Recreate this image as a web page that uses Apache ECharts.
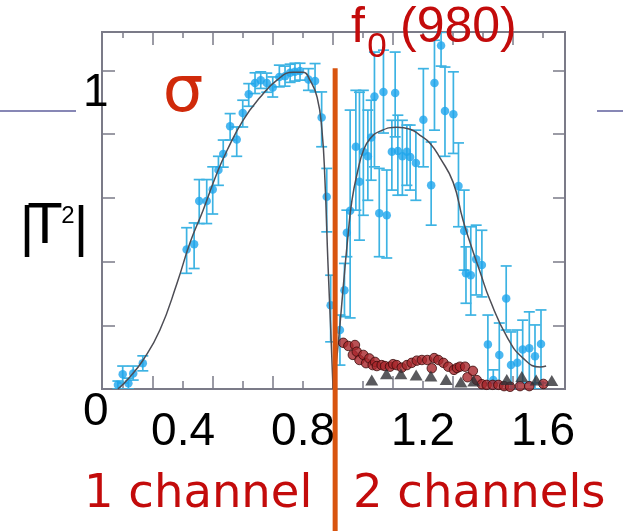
<!DOCTYPE html>
<html><head><meta charset="utf-8">
<script src="https://cdn.jsdelivr.net/npm/echarts@6/dist/echarts.min.js"></script>
<style>html,body{margin:0;padding:0;background:#fff}#c{width:623px;height:531px}</style>
</head><body><div id="c"></div>
<script>
// ---- axis ranges / ticks ----
const xMin = 0.13, xMax = 1.673;
const yMin = 0, yMax = 1.12;
const xTickLabels = [0.4, 0.8, 1.2, 1.6];
const xLongTicks = [0.3, 0.5, 0.7, 0.9, 1.1, 1.3, 1.5];
const xShortTicks = [0.2, 0.4, 0.6, 0.8, 1.0, 1.2, 1.4, 1.6];
const yTicks = [0.2, 0.4, 0.6, 0.8, 1.0];
const yTickLabels = [0, 1];
const dividerX = 0.907, dividerTop = 1.006;

// ---- blue data with error bars ----
const blueX = [0.183,0.199,0.218,0.234,0.266,0.412,0.437,0.454,0.479,0.499,0.518,0.534,0.557,0.579,0.599,0.619,0.640,0.659,0.679,0.699,0.721,0.740,0.757,0.773,0.790,0.818,0.840,0.862,0.879,0.892,0.923,0.938,0.946,0.957,0.976,0.988,1.001,1.016,1.027,1.038,1.054,1.068,1.079,1.096,1.107,1.116,1.131,1.146,1.157,1.176,1.201,1.227,1.238,1.260,1.273,1.301,1.318,1.337,1.343,1.359,1.377,1.396,1.416,1.434,1.454,1.477,1.493,1.514,1.532,1.554,1.573,1.593];
const blueY = [0.013,0.046,0.018,0.049,0.081,0.438,0.454,0.590,0.590,0.626,0.687,0.737,0.824,0.783,0.866,0.925,0.960,0.969,0.960,0.946,0.979,0.981,0.992,0.995,0.998,0.971,0.966,0.852,0.603,0.263,0.185,0.310,0.490,0.559,0.760,0.650,0.744,0.730,0.789,0.918,0.551,0.932,0.545,0.744,0.929,0.747,0.730,0.744,0.728,0.709,0.845,0.639,0.960,1.078,0.872,0.862,0.637,0.496,0.363,0.357,0.407,0.389,0.140,0.028,0.107,0.284,0.075,0.082,0.124,0.128,0.103,0.141];
const blueHi = [0.025,0.072,0.034,0.072,0.104,0.506,0.521,0.657,0.657,0.697,0.730,0.781,0.864,0.822,0.906,0.958,0.992,0.995,0.991,0.979,1.016,1.013,1.019,1.022,1.022,1.005,1.021,0.932,0.692,0.357,0.232,0.394,0.561,0.875,0.937,0.931,0.937,0.875,0.906,1.057,0.692,1.063,0.687,0.843,1.057,0.859,0.843,0.828,0.828,0.812,1.005,0.775,1.094,1.119,1.010,0.995,0.772,0.624,0.446,0.509,0.514,0.498,0.232,0.060,0.207,0.386,0.179,0.185,0.216,0.242,0.201,0.248];
const blueLo = [0.000,0.019,0.000,0.028,0.057,0.363,0.378,0.519,0.519,0.549,0.639,0.696,0.781,0.730,0.822,0.887,0.927,0.943,0.931,0.916,0.948,0.950,0.962,0.966,0.969,0.937,0.932,0.760,0.493,0.148,0.075,0.227,0.415,0.223,0.561,0.467,0.545,0.592,0.655,0.697,0.415,0.803,0.411,0.624,0.791,0.608,0.608,0.639,0.624,0.592,0.697,0.514,0.812,1.013,0.730,0.739,0.509,0.373,0.269,0.232,0.295,0.289,0.019,0.000,0.019,0.185,0.000,0.000,0.019,0.019,0.000,0.019];

// ---- fit curve (two branches meeting at the dip) ----
const curveLeftX = [0.183,0.223,0.267,0.323,0.380,0.423,0.467,0.513,0.547,0.600,0.657,0.713,0.767,0.800,0.823,0.847,0.863,0.873,0.883,0.893,0.900];
const curveLeftY = [0,0.038,0.091,0.185,0.332,0.458,0.561,0.677,0.749,0.843,0.915,0.969,0.994,0.994,0.969,0.915,0.812,0.655,0.395,0.169,0];
const curveRightX = [0.900,0.910,0.923,0.933,0.950,0.963,0.983,1.000,1.023,1.057,1.113,1.157,1.190,1.223,1.257,1.300,1.333,1.357,1.390,1.423,1.480,1.533,1.590,1.610];
const curveRightY = [0,0.075,0.201,0.310,0.483,0.592,0.687,0.745,0.785,0.809,0.821,0.815,0.796,0.771,0.724,0.649,0.530,0.458,0.367,0.279,0.163,0.097,0.069,0.072];

// ---- red circles ----
const redX = [0.934,0.951,0.966,0.973,0.979,0.988,1.001,1.010,1.021,1.032,1.040,1.046,1.062,1.073,1.090,1.100,1.112,1.129,1.146,1.162,1.179,1.196,1.214,1.229,1.237,1.251,1.268,1.284,1.303,1.313,1.323,1.340,1.348,1.366,1.379,1.396,1.412,1.432,1.451,1.470,1.490,1.523,1.554,1.601];
const redY = [0.145,0.135,0.107,0.138,0.117,0.091,0.107,0.081,0.096,0.075,0.085,0.072,0.075,0.072,0.070,0.078,0.075,0.067,0.075,0.082,0.089,0.091,0.091,0.065,0.097,0.091,0.082,0.070,0.060,0.066,0.070,0.070,0.037,0.057,0.028,0.015,0.013,0.013,0.013,0.009,0.007,0.009,0.009,0.016];

// ---- black triangles ----
const triX = [1.029,1.078,1.126,1.177,1.226,1.277,1.326,1.369,1.479,1.529,1.577,1.629];
const triY = [0.028,0.048,0.048,0.044,0.041,0.030,0.022,0.025,0.030,0.039,0.028,0.027];

const chart = echarts.init(document.getElementById('c'), null, {renderer: 'canvas'});

const axisCol = '#7b7b88';
function xAx(position, ticks, len, labels) {
  return {
    type: 'value', position: position, min: xMin, max: xMax,
    axisLine: {show: false}, splitLine: {show: false},
    axisTick: {show: true, inside: true, length: len, customValues: ticks, lineStyle: {color: axisCol, width: 1.5}},
    axisLabel: labels ? {
      show: true, customValues: labels, fontSize: 46, fontFamily: 'Liberation Sans', color: '#000',
      margin: 20, lineHeight: 46, formatter: v => v.toFixed(1)
    } : {show: false}
  };
}

const errData = blueX.map((x, i) => [x, blueLo[i], blueHi[i]]);
function renderErr(params, api) {
  const x = api.value(0), lo = api.value(1), hi = api.value(2);
  const a = api.coord([x, lo]), b = api.coord([x, hi]);
  const w = 5.5;
  const st = {stroke: '#3db3e3', lineWidth: 1.7};
  return {type: 'group', children: [
    {type: 'line', shape: {x1: a[0], y1: a[1], x2: b[0], y2: b[1]}, style: st},
    {type: 'line', shape: {x1: b[0] - w, y1: b[1], x2: b[0] + w, y2: b[1]}, style: st},
    {type: 'line', shape: {x1: a[0] - w, y1: a[1], x2: a[0] + w, y2: a[1]}, style: st}
  ]};
}

const curveStyle = {color: '#4d4d55', width: 1.5};
chart.setOption({
  animation: false,
  backgroundColor: '#fff',
  textStyle: {fontFamily: 'Liberation Sans'},
  grid: {left: 102, right: 58, top: 32, bottom: 142, show: true, borderColor: axisCol, borderWidth: 2,
         backgroundColor: '#fff', containLabel: false, outerBoundsMode: 'none'},
  xAxis: [
    xAx('bottom', xShortTicks, 8, xTickLabels),
    xAx('bottom', xLongTicks, 13, null),
    xAx('top', xShortTicks, 6, null),
    xAx('top', xLongTicks, 13, null)
  ],
  yAxis: [
    {type: 'value', position: 'left', min: yMin, max: yMax,
     axisLine: {show: false}, splitLine: {show: false},
     axisTick: {show: true, inside: true, length: 13, customValues: yTicks, lineStyle: {color: axisCol, width: 1.5}},
     axisLabel: {show: true, customValues: yTickLabels, align: 'left', verticalAlign: 'top', margin: 19,
                 fontSize: 46, lineHeight: 46, fontFamily: 'Liberation Sans', color: '#000',
                 formatter: v => String(Math.round(v))}},
    {type: 'value', position: 'right', min: yMin, max: yMax,
     axisLine: {show: false}, splitLine: {show: false},
     axisTick: {show: true, inside: true, length: 12, customValues: yTicks, lineStyle: {color: axisCol, width: 1.5}},
     axisLabel: {show: false}}
  ],
  series: [
    {type: 'custom', name: 'errors', xAxisIndex: 0, yAxisIndex: 0, renderItem: renderErr,
     encode: {x: 0, y: [1, 2]}, data: errData, clip: true, z: 2},
    {type: 'scatter', name: 'data', xAxisIndex: 0, yAxisIndex: 0, symbolSize: 8.5,
     itemStyle: {color: '#1ea5ec'}, data: blueX.map((x, i) => [x, blueY[i]]), z: 3},
    {type: 'line', name: 'fitL', xAxisIndex: 0, yAxisIndex: 0, showSymbol: false, smooth: 0.5,
     lineStyle: curveStyle, data: curveLeftX.map((x, i) => [x, curveLeftY[i]]), z: 4},
    {type: 'line', name: 'fitR', xAxisIndex: 0, yAxisIndex: 0, showSymbol: false, smooth: 0.5,
     lineStyle: curveStyle, data: curveRightX.map((x, i) => [x, curveRightY[i]]), z: 4},
    {type: 'scatter', name: 'red', xAxisIndex: 0, yAxisIndex: 0, symbolSize: 9.5,
     itemStyle: {color: '#a8252b', borderColor: '#3a0a0a', borderWidth: 1},
     data: redX.map((x, i) => [x, redY[i]]), z: 5},
    {type: 'scatter', name: 'tri', xAxisIndex: 0, yAxisIndex: 0, symbol: 'triangle', symbolSize: [13, 11],
     itemStyle: {color: '#2f2f35'}, data: triX.map((x, i) => [x, triY[i]]), z: 5}
  ]
});

const p = chart.convertToPixel({xAxisIndex: 0, yAxisIndex: 0}, [dividerX, dividerTop]);
const red = '#c30b0b';
chart.setOption({
  graphic: [
    {type: 'line', z: 50, shape: {x1: 0, y1: 111, x2: 76, y2: 111}, style: {stroke: '#8787b5', lineWidth: 2}},
    {type: 'line', z: 50, shape: {x1: 597, y1: 111, x2: 623, y2: 111}, style: {stroke: '#8787b5', lineWidth: 2}},
    {type: 'line', z: 100, shape: {x1: p[0], y1: p[1], x2: p[0], y2: 531}, style: {stroke: '#d8540f', lineWidth: 5}},
    {type: 'text', z: 60, x: 27, y: 230, style: {text: '|', fontSize: 56, fontFamily: 'Liberation Sans', fill: '#000', align: 'center', verticalAlign: 'middle'}},
    {type: 'text', z: 60, x: 45, y: 227, style: {text: 'T', fontSize: 58, fontFamily: 'Liberation Sans', fill: '#000', align: 'center', verticalAlign: 'middle'}},
    {type: 'text', z: 60, x: 68, y: 216, style: {text: '2', fontSize: 24, fontFamily: 'Liberation Sans', fill: '#000', align: 'center', verticalAlign: 'middle'}},
    {type: 'text', z: 60, x: 81, y: 230, style: {text: '|', fontSize: 56, fontFamily: 'Liberation Sans', fill: '#000', align: 'center', verticalAlign: 'middle'}},
    {type: 'text', z: 60, x: 183, y: 94, style: {text: 'σ', fontSize: 64, fontFamily: 'DejaVu Sans', fill: '#d02a0a', align: 'center', verticalAlign: 'middle'}},
    {type: 'text', z: 60, x: 351, y: 28, style: {text: 'f', fontSize: 50, fontFamily: 'Liberation Sans', fill: red, align: 'left', verticalAlign: 'middle'}},
    {type: 'text', z: 60, x: 377, y: 47, style: {text: '0', fontSize: 35, fontFamily: 'Liberation Sans', fill: red, align: 'center', verticalAlign: 'middle'}},
    {type: 'text', z: 60, x: 400, y: 28, style: {text: '(980)', fontSize: 50, fontFamily: 'Liberation Sans', fill: red, align: 'left', verticalAlign: 'middle'}},
    {type: 'text', z: 60, x: 84, y: 495, style: {text: '1 channel', fontSize: 46.5, fontFamily: 'DejaVu Sans', fill: red, align: 'left', verticalAlign: 'middle'}},
    {type: 'text', z: 60, x: 353, y: 495, style: {text: '2 channels', fontSize: 46.5, fontFamily: 'DejaVu Sans', fill: red, align: 'left', verticalAlign: 'middle'}}
  ]
});
</script>
</body></html>
